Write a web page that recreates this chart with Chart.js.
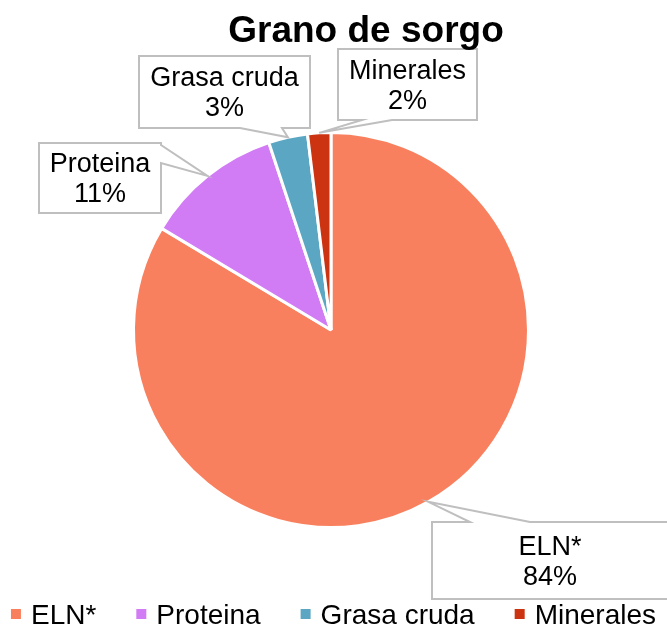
<!DOCTYPE html>
<html><head><meta charset="utf-8">
<script src="https://cdn.jsdelivr.net/npm/chart.js@4.4.1/dist/chart.umd.min.js"></script>
<style>html,body{margin:0;padding:0;background:#fff;}#wrap{width:667px;height:626px;}</style>
</head><body><div id="wrap"><canvas id="c" width="667" height="626"></canvas></div>
<script>
const chartTitle = 'Grano de sorgo';
const categories = ['ELN*', 'Proteina', 'Grasa cruda', 'Minerales'];
const sliceValues = [83.6, 11.3, 3.2, 1.9];
const sliceColors = ['#F9805E', '#D17BF5', '#5BA7C3', '#CC3311'];

const FONT = '"Liberation Sans", Arial, sans-serif';

// callout layout relative to pie centre (positions / sizes only)
const calloutLayout = [
  {dx: 219, dy: 230.5, w: 236, h: 77, side: 'top', b1: -80, b2: -20},
  {dx: -231, dy: -152, w: 122, h: 70, side: 'right', b1: -33, b2: -15},
  {dx: -106.5, dy: -238, w: 171, h: 72, side: 'bottom', b1: 15.5, b2: 57.5},
  {dx: 76.5, dy: -245.5, w: 139, h: 71, side: 'bottom', b1: -45.5, b2: -15.5}
];

const decorPlugin = {
  id: 'decor',
  afterDatasetsDraw(chart) {
    const ctx = chart.ctx;
    const meta = chart.getDatasetMeta(0);
    const total = sliceValues.reduce((a, v) => a + v, 0);
    ctx.save();
    meta.data.forEach((arc, i) => {
      const p = arc.getProps(['x','y','startAngle','endAngle','outerRadius'], true);
      const mid = (p.startAngle + p.endAngle) / 2;
      const tx = p.x + p.outerRadius * Math.cos(mid);
      const ty = p.y + p.outerRadius * Math.sin(mid);
      const L = calloutLayout[i];
      const bx = p.x + L.dx, by = p.y + L.dy;
      const l = bx - L.w/2, r = bx + L.w/2, t = by - L.h/2, b = by + L.h/2;
      ctx.beginPath();
      if (L.side === 'bottom') {
        ctx.moveTo(l, t); ctx.lineTo(r, t); ctx.lineTo(r, b);
        ctx.lineTo(bx + L.b2, b); ctx.lineTo(tx, ty); ctx.lineTo(bx + L.b1, b);
        ctx.lineTo(l, b);
      } else if (L.side === 'top') {
        ctx.moveTo(l, t); ctx.lineTo(bx + L.b1, t); ctx.lineTo(tx, ty); ctx.lineTo(bx + L.b2, t);
        ctx.lineTo(r, t); ctx.lineTo(r, b); ctx.lineTo(l, b);
      } else {
        ctx.moveTo(l, t); ctx.lineTo(r, t); ctx.lineTo(r, by + L.b1); ctx.lineTo(tx, ty);
        ctx.lineTo(r, by + L.b2); ctx.lineTo(r, b); ctx.lineTo(l, b);
      }
      ctx.closePath();
      ctx.fillStyle = '#FFFFFF';
      ctx.fill();
      ctx.strokeStyle = '#BFBFBF';
      ctx.lineWidth = 2;
      ctx.stroke();
      ctx.fillStyle = '#000000';
      ctx.font = '27px ' + FONT;
      ctx.textAlign = 'center';
      ctx.textBaseline = 'middle';
      const pct = Math.round(sliceValues[i] / total * 100);
      ctx.fillText(categories[i], bx, by - 13);
      ctx.fillText(pct + '%', bx, by + 17);
    });
    // title
    const c0 = meta.data[0];
    ctx.font = 'bold 37px ' + FONT;
    ctx.textAlign = 'center';
    ctx.textBaseline = 'alphabetic';
    ctx.fillStyle = '#000000';
    ctx.fillText(chartTitle, c0.x + 35, 42);
    // legend
    ctx.font = '28px ' + FONT;
    ctx.textAlign = 'left';
    const gap = 40, box = 10, pad = 10;
    const widths = categories.map(s => ctx.measureText(s).width);
    let tw = widths.reduce((a, w) => a + w + box + pad, 0) + gap * (categories.length - 1);
    let x = (chart.width - tw) / 2;
    categories.forEach((s, i) => {
      ctx.fillStyle = sliceColors[i];
      ctx.fillRect(x, 609, box, box);
      ctx.fillStyle = '#000000';
      ctx.fillText(s, x + box + pad, 624);
      x += box + pad + widths[i] + gap;
    });
    ctx.restore();
  }
};

new Chart(document.getElementById('c'), {
  type: 'pie',
  data: {
    labels: categories,
    datasets: [{
      data: sliceValues,
      backgroundColor: sliceColors,
      borderColor: '#FFFFFF',
      borderWidth: 3
    }]
  },
  options: {
    responsive: false,
    animation: false,
    layout: {padding: {left: 132, right: 137, top: 131, bottom: 97}},
    plugins: {legend: {display: false}, title: {display: false}, tooltip: {enabled: false}}
  },
  plugins: [decorPlugin]
});
</script>
</body></html>
